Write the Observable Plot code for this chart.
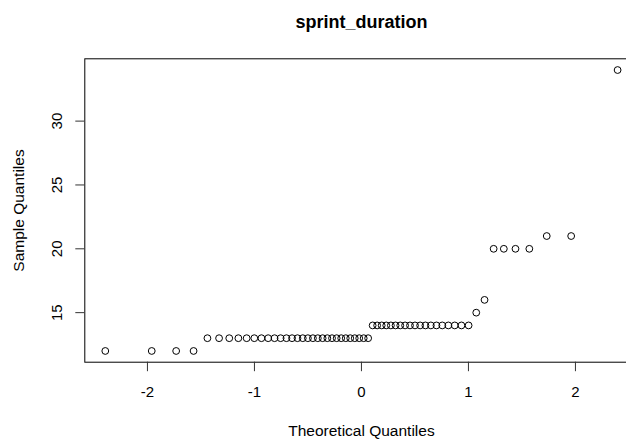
<!DOCTYPE html>
<html>
<head>
<meta charset="utf-8">
<script src="https://cdn.jsdelivr.net/npm/d3@7"></script>
<script src="https://cdn.jsdelivr.net/npm/@observablehq/plot@0.6"></script>
<style>
  html, body { margin: 0; padding: 0; background: #ffffff; overflow: hidden; }
  #chart svg { display: block; }
</style>
</head>
<body>
<div id="chart"></div>
<script>
// Sample values (sorted) of sprint_duration
const sprintDuration = [
  12, 12, 12, 12,
  13, 13, 13, 13, 13, 13, 13, 13, 13, 13,
  13, 13, 13, 13, 13, 13, 13, 13, 13, 13,
  13, 13, 13, 13, 13, 13, 13, 13,
  14, 14, 14, 14, 14, 14, 14, 14, 14, 14,
  14, 14, 14, 14, 14, 14, 14, 14, 14,
  15, 16,
  20, 20, 20, 20,
  21, 21,
  34
];
const chartTitle = "sprint_duration";
const xTitle = "Theoretical Quantiles";
const yTitle = "Sample Quantiles";
const xTicks = [-2, -1, 0, 1, 2];
const yTicks = [15, 20, 25, 30];

// Inverse standard normal CDF (Acklam), used as in R's qqnorm
function qnorm(p) {
  const a = [-3.969683028665376e+01, 2.209460984245205e+02, -2.759285104469687e+02, 1.383577518672690e+02, -3.066479806614716e+01, 2.506628277459239e+00];
  const b = [-5.447609879822406e+01, 1.615858368580409e+02, -1.556989798598866e+02, 6.680131188771972e+01, -1.328068155288572e+01];
  const c = [-7.784894002430293e-03, -3.223964580411365e-01, -2.400758277161838e+00, -2.549732539343734e+00, 4.374664141464968e+00, 2.938163982698783e+00];
  const d = [7.784695709041462e-03, 3.224671290700398e-01, 2.445134137142996e+00, 3.754408661907416e+00];
  const pl = 0.02425, ph = 1 - pl;
  let q, r;
  if (p < pl) {
    q = Math.sqrt(-2 * Math.log(p));
    return (((((c[0]*q+c[1])*q+c[2])*q+c[3])*q+c[4])*q+c[5]) / ((((d[0]*q+d[1])*q+d[2])*q+d[3])*q+1);
  } else if (p <= ph) {
    q = p - 0.5; r = q * q;
    return (((((a[0]*r+a[1])*r+a[2])*r+a[3])*r+a[4])*r+a[5])*q / (((((b[0]*r+b[1])*r+b[2])*r+b[3])*r+b[4])*r+1);
  } else {
    q = Math.sqrt(-2 * Math.log(1 - p));
    return -(((((c[0]*q+c[1])*q+c[2])*q+c[3])*q+c[4])*q+c[5]) / ((((d[0]*q+d[1])*q+d[2])*q+d[3])*q+1);
  }
}

const n = sprintDuration.length;
const aPP = n <= 10 ? 3 / 8 : 0.5;
const table = sprintDuration.map((v, i) => ({
  theoretical: qnorm((i + 1 - aPP) / (n + 1 - 2 * aPP)),
  sample: v
}));

// R-style 4% axis extension
const xExt = d3.extent(table, d => d.theoretical);
const yExt = d3.extent(table, d => d.sample);
const xPad = (xExt[1] - xExt[0]) * 0.04;
const yPad = (yExt[1] - yExt[0]) * 0.04;

const font = "'Liberation Sans', Arial, sans-serif";

const chart = Plot.plot({
  width: 626,
  height: 441,
  marginLeft: 84.3,
  marginRight: -11.6,
  marginTop: 58.3,
  marginBottom: 79.3,
  style: { fontFamily: font, background: "#ffffff", color: "#000000", overflow: "visible" },
  x: { domain: [xExt[0] - xPad, xExt[1] + xPad], axis: null },
  y: { domain: [yExt[0] - yPad, yExt[1] + yPad], axis: null },
  marks: [
    Plot.frame({ stroke: "#000000", strokeWidth: 1 }),
    Plot.axisX({
      ticks: xTicks,
      tickSize: 9.5,
      tickPadding: 15,
      fontSize: 15,
      tickFormat: d => String(d),
      stroke: "#333333",
      label: null
    }),
    Plot.axisY({
      ticks: yTicks,
      tickSize: 9,
      tickFormat: () => "",
      stroke: "#333333",
      label: null
    }),
    Plot.text(yTicks, {
      y: d => d,
      text: d => String(d),
      frameAnchor: "left",
      rotate: -90,
      dx: -22.6,
      lineAnchor: "bottom",
      textAnchor: "middle",
      fontSize: 15,
      fill: "#000000"
    }),
    Plot.dot(table, {
      x: "theoretical",
      y: "sample",
      r: 3.4,
      stroke: "#000000",
      strokeWidth: 1,
      fill: "none"
    }),
    Plot.text([chartTitle], {
      text: d => d,
      frameAnchor: "top",
      dy: -31.3,
      lineAnchor: "bottom",
      fontSize: 18,
      fontWeight: "bold",
      fill: "#000000"
    }),
    Plot.text([xTitle], {
      text: d => d,
      frameAnchor: "bottom",
      dy: 73.3,
      lineAnchor: "bottom",
      fontSize: 15.5,
      fill: "#000000"
    }),
    Plot.text([yTitle], {
      text: d => d,
      frameAnchor: "left",
      rotate: -90,
      dx: -61.3,
      lineAnchor: "bottom",
      textAnchor: "middle",
      fontSize: 15.5,
      fill: "#000000"
    })
  ]
});

document.getElementById("chart").appendChild(chart);
</script>
</body>
</html>
